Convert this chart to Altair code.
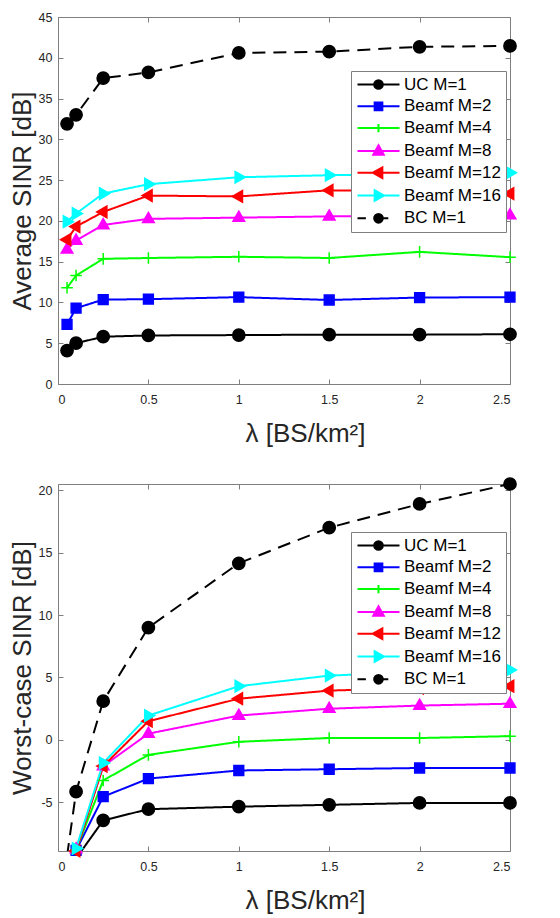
import altair as alt
import pandas as pd

lam = [0.05, 0.1, 0.25, 0.5, 1, 1.5, 2, 2.5]
series = ["UC M=1", "Beamf M=2", "Beamf M=4", "Beamf M=8", "Beamf M=12", "Beamf M=16", "BC M=1"]

# Average SINR [dB]
avg_uc = [4.1, 5.0, 5.8, 5.95, 6.0, 6.05, 6.05, 6.1]
avg_m2 = [7.3, 9.3, 10.35, 10.4, 10.65, 10.3, 10.6, 10.65]
avg_m4 = [11.8, 13.3, 15.35, 15.45, 15.6, 15.45, 16.2, 15.55]
avg_m8 = [16.5, 17.6, 19.5, 20.25, 20.4, 20.55, 20.65, 20.7]
avg_m12 = [17.7, 19.3, 21.1, 23.1, 23.0, 23.75, 23.6, 23.35]
avg_m16 = [19.9, 20.9, 23.35, 24.5, 25.35, 25.6, 25.75, 25.9]
avg_bc = [31.9, 33.0, 37.5, 38.2, 40.6, 40.75, 41.35, 41.45]

# Worst-case SINR [dB]
wc_uc = [None, -9.5, -6.45, -5.55, -5.35, -5.2, -5.05, -5.05]
wc_m2 = [None, -8.85, -4.55, -3.1, -2.45, -2.35, -2.25, -2.25]
wc_m4 = [None, -8.8, -3.25, -1.2, -0.15, 0.15, 0.15, 0.3]
wc_m8 = [None, -8.75, -2.1, 0.5, 1.95, 2.5, 2.75, 2.9]
wc_m12 = [None, -8.9, -2.1, 1.5, 3.3, 3.95, 4.15, 4.3]
wc_m16 = [None, -8.7, -1.85, 1.95, 4.3, 5.15, 5.45, 5.6]
wc_bc = [-9.3, -4.15, 3.1, 9.0, 14.15, 17.0, 18.9, 20.5]

x_ticks = [0, 0.5, 1, 1.5, 2, 2.5]
avg_ticks = [0, 5, 10, 15, 20, 25, 30, 35, 40, 45]
wc_ticks = [-5, 0, 5, 10, 15, 20]

colors = ["#000000", "#0000ff", "#00ff00", "#ff00ff", "#ff0000", "#00ffff", "#000000"]
dashes = [[1, 0], [1, 0], [1, 0], [1, 0], [1, 0], [1, 0], [13, 8]]
marker_paths = [
    "circle",
    "M-0.8,-0.8L0.8,-0.8L0.8,0.8L-0.8,0.8Z",
    "M-0.95,0L0.95,0M0,-0.95L0,0.95",
    "M0,-1.05L0.95,0.6L-0.95,0.6Z",
    "M-1.05,0L0.6,-0.95L0.6,0.95Z",
    "M1.05,0L-0.6,-0.95L-0.6,0.95Z",
    "circle",
]
C = "A0.62,0.62 0 1,0 0.62,0A0.62,0.62 0 1,0 -0.62,0Z"
legend_paths = [
    "M-3,0L3,0M-0.62,0" + C,
    "M-3,0L3,0M-0.55,-0.55L0.55,-0.55L0.55,0.55L-0.55,0.55Z",
    "M-3,0L3,0M0,-0.6L0,0.6",
    "M-3,0L3,0M0,-0.8L0.75,0.55L-0.75,0.55Z",
    "M-3,0L3,0M-0.8,0L0.55,-0.75L0.55,0.75Z",
    "M-3,0L3,0M0.8,0L-0.55,-0.75L-0.55,0.75Z",
    "M-3,0L-1.8,0M0.6,0L1.4,0M-0.62,0" + C,
]

FONT = "Liberation Sans"
GRAY = "#7f7f7f"
TXT = "#262626"


def long_table(cols):
    rows = []
    for name, vals in zip(series, cols):
        for xv, yv in zip(lam, vals):
            if yv is not None:
                rows.append({"lam": xv, "sinr": yv, "series": name})
    return pd.DataFrame(rows)


def sc(rng):
    return alt.Scale(domain=series, range=rng)


def panel(df, ytitle, ydom, yticks, leg_y):
    xs = alt.Scale(domain=[0, 2.5], nice=False)
    ys = alt.Scale(domain=ydom, nice=False, zero=False)
    lab = "datum.value + ''"

    lines = alt.Chart(df).mark_line(strokeWidth=2, clip=True).encode(
        x=alt.X("lam:Q", scale=xs, axis=alt.Axis(orient="top", offset=-5, tickSize=5, labels=False,
                                                 domain=False, grid=False, title=None, values=x_ticks,
                                                 tickColor=GRAY)),
        y=alt.Y("sinr:Q", scale=ys, axis=alt.Axis(orient="right", offset=-5, tickSize=5, labels=False,
                                                  domain=False, grid=False, title=None, values=yticks,
                                                  tickColor=GRAY)),
        color=alt.Color("series:N", scale=sc(colors), legend=None),
        strokeDash=alt.StrokeDash("series:N", scale=sc(dashes), legend=None),
        order=alt.Order("lam:Q"),
        detail="series:N",
    )

    pts = alt.Chart(df).transform_filter(
        alt.datum.sinr >= ydom[0] - 0.05
    ).mark_point(filled=True, size=150, opacity=1, strokeWidth=1.5).encode(
        x=alt.X("lam:Q", scale=xs, axis=alt.Axis(orient="bottom", offset=-5, tickSize=5, domain=False,
                                                 grid=False, values=x_ticks, labelExpr=lab,
                                                 title="λ [BS/km²]", titleX=247, titleAlign="center",
                                                 labelPadding=9, titlePadding=15, tickColor=GRAY)),
        y=alt.Y("sinr:Q", scale=ys, axis=alt.Axis(orient="left", offset=-5, tickSize=5, domain=False,
                                                  grid=False, values=yticks, labelExpr=lab,
                                                  title=ytitle, labelPadding=6, titlePadding=3,
                                                  tickColor=GRAY)),
        color=alt.Color("series:N", scale=sc(colors), legend=None),
        stroke=alt.Stroke("series:N", scale=sc(colors), legend=None),
        shape=alt.Shape("series:N", scale=sc(marker_paths), legend=None),
    )

    leg = alt.Legend(title=None, orient="none", legendX=293, legendY=leg_y,
                     fillColor="white", strokeColor=GRAY, padding=5,
                     symbolSize=196, symbolStrokeWidth=2, symbolOffset=14,
                     labelOffset=17, labelFont=FONT, labelFontSize=17, labelColor="black",
                     rowPadding=3.8, labelLimit=300)
    legend_layer = alt.Chart(df).transform_filter("false").mark_point(
        filled=False, size=196, opacity=1, strokeWidth=2
    ).encode(
        x=alt.X("lam:Q", scale=xs, axis=None),
        y=alt.Y("sinr:Q", scale=ys, axis=None),
        color=alt.Color("series:N", scale=sc(colors), legend=leg),
        fill=alt.Fill("series:N", scale=sc(colors), legend=leg),
        shape=alt.Shape("series:N", scale=sc(legend_paths), legend=leg),
    )

    return alt.layer(lines, pts, legend_layer).resolve_scale(
        color="independent", fill="independent", stroke="independent",
        shape="independent", strokeDash="independent"
    ).resolve_axis(x="independent", y="independent").properties(width=452, height=367)


top = panel(long_table([avg_uc, avg_m2, avg_m4, avg_m8, avg_m12, avg_m16, avg_bc]),
            "Average SINR [dB]", [0, 45], avg_ticks, 54)
bot = panel(long_table([wc_uc, wc_m2, wc_m4, wc_m8, wc_m12, wc_m16, wc_bc]),
            "Worst-case SINR [dB]", [-8.9, 20.5], wc_ticks, 48)

chart = alt.vconcat(top, bot, spacing=100, bounds="flush").properties(
    padding={"left": 0, "top": 2, "right": 0, "bottom": 0}, background="white"
).configure_view(stroke=GRAY, strokeWidth=1).configure_axis(
    labelFont=FONT, labelFontSize=12.5, labelColor=TXT, titleFont=FONT, titleFontSize=26,
    titleColor=TXT, titleFontWeight="normal"
)

chart.save("out.html", embed_options={"renderer": "svg", "actions": False})
